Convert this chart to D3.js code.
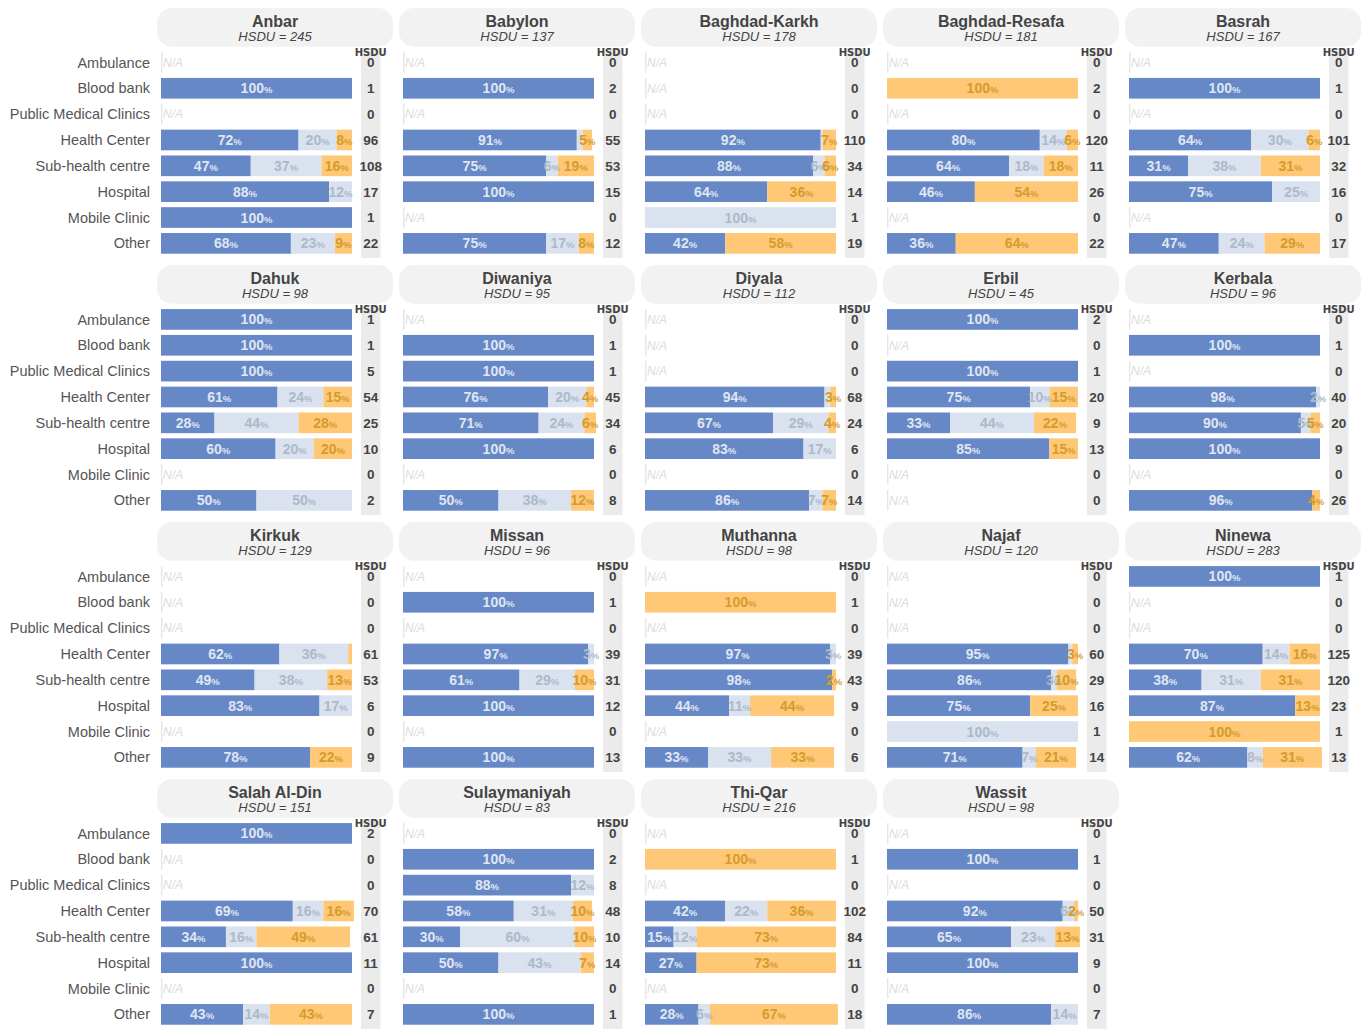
<!DOCTYPE html>
<html><head><meta charset="utf-8">
<script src="https://cdn.jsdelivr.net/npm/d3@7"></script>
<style>
body{margin:0;background:#fff;}
svg{display:block;font-family:"Liberation Sans",Arial,Helvetica,sans-serif;}
</style>
</head><body>
<svg id="chart" width="1367" height="1030"></svg>
<script>
const categories = ["Ambulance","Blood bank","Public Medical Clinics","Health Center","Sub-health centre","Hospital","Mobile Clinic","Other"];
const governorates = ["Anbar","Babylon","Baghdad-Karkh","Baghdad-Resafa","Basrah","Dahuk","Diwaniya","Diyala","Erbil","Kerbala","Kirkuk","Missan","Muthanna","Najaf","Ninewa","Salah Al-Din","Sulaymaniyah","Thi-Qar","Wassit"];
const totalHSDU = [245,137,178,181,167,98,95,112,45,96,129,96,98,120,283,151,83,216,98];

// HSDU count per category (0 = N/A)
const counts = [
  [0,1,0,96,108,17,1,22],
  [0,2,0,55,53,15,0,12],
  [0,0,0,110,34,14,1,19],
  [0,2,0,120,11,26,0,22],
  [0,1,0,101,32,16,0,17],
  [1,1,5,54,25,10,0,2],
  [0,1,1,45,34,6,0,8],
  [0,0,0,68,24,6,0,14],
  [2,0,1,20,9,13,0,0],
  [0,1,0,40,20,9,0,26],
  [0,0,0,61,53,6,0,9],
  [0,1,0,39,31,12,0,13],
  [0,1,0,39,43,9,0,6],
  [0,0,0,60,29,16,1,14],
  [1,0,0,125,120,23,1,13],
  [2,0,0,70,61,11,0,7],
  [0,2,8,48,10,14,0,1],
  [0,1,0,102,84,11,0,18],
  [0,1,0,50,31,9,0,7]
];
// share (%) – first series (blue)
const blueShare = [
  [0,100,0,72,47,88,100,68],
  [0,100,0,91,75,100,0,75],
  [0,0,0,92,88,64,0,42],
  [0,0,0,80,64,46,0,36],
  [0,100,0,64,31,75,0,47],
  [100,100,100,61,28,60,0,50],
  [0,100,100,76,71,100,0,50],
  [0,0,0,94,67,83,0,86],
  [100,0,100,75,33,85,0,0],
  [0,100,0,98,90,100,0,96],
  [0,0,0,62,49,83,0,78],
  [0,100,0,97,61,100,0,100],
  [0,0,0,97,98,44,0,33],
  [0,0,0,95,86,75,0,71],
  [100,0,0,70,38,87,0,62],
  [100,0,0,69,34,100,0,43],
  [0,100,88,58,30,50,0,100],
  [0,0,0,42,15,27,0,28],
  [0,100,0,92,65,100,0,86]
];
// share (%) – second series (light)
const lightShare = [
  [0,0,0,20,37,12,0,23],
  [0,0,0,3,6,0,0,17],
  [0,0,0,1,6,0,100,0],
  [0,0,0,14,18,0,0,0],
  [0,0,0,30,38,25,0,24],
  [0,0,0,24,44,20,0,50],
  [0,0,0,20,24,0,0,38],
  [0,0,0,3,29,17,0,7],
  [0,0,0,10,44,0,0,0],
  [0,0,0,2,5,0,0,0],
  [0,0,0,36,38,17,0,0],
  [0,0,0,3,29,0,0,0],
  [0,0,0,3,0,11,0,33],
  [0,0,0,2,3,0,100,7],
  [0,0,0,14,31,0,0,8],
  [0,0,0,16,16,0,0,14],
  [0,0,12,31,60,43,0,0],
  [0,0,0,22,12,0,0,6],
  [0,0,0,6,23,0,0,14]
];
// share (%) – third series (orange)
const orangeShare = [
  [0,0,0,8,16,0,0,9],
  [0,0,0,5,19,0,0,8],
  [0,0,0,7,6,36,0,58],
  [0,100,0,6,18,54,0,64],
  [0,0,0,6,31,0,0,29],
  [0,0,0,15,28,20,0,0],
  [0,0,0,4,6,0,0,12],
  [0,0,0,3,4,0,0,7],
  [0,0,0,15,22,15,0,0],
  [0,0,0,0,5,0,0,4],
  [0,0,0,2,13,0,0,22],
  [0,0,0,0,10,0,0,0],
  [0,100,0,0,2,44,0,33],
  [0,0,0,3,10,25,0,21],
  [0,0,0,16,31,13,100,31],
  [0,0,0,16,49,0,0,43],
  [0,0,0,10,10,7,0,0],
  [0,100,0,36,73,73,0,67],
  [0,0,0,2,13,0,0,0]
];
// segments whose value label is not printed in the reference
const unlabeled = ["Babylon|Health Center|light","Baghdad-Karkh|Health Center|light","Diyala|Health Center|light","Najaf|Health Center|light","Kirkuk|Health Center|orange"];

const keys = ["blue","light","orange"];
const fill = {blue:"#6788c6", light:"#d9e2ee", orange:"#fec877"};
const textFill = {blue:"#dfe6f2", light:"#adb9ca", orange:"#d69b2c"};

const svg = d3.select("#chart");
const colStep = 242, rowStep = 257;
const x = d3.scaleLinear().domain([0,100]).range([161,352]);
const y = d3.scaleBand().domain(categories).range([49.5,256.3]).paddingInner(0.2).paddingOuter(0.1);
const stack = d3.stack().keys(keys);

governorates.forEach((gov, g) => {
  const c = g % 5, r = Math.floor(g / 5);
  const p = svg.append("g").attr("transform", `translate(${c*colStep},${r*rowStep})`);

  // header pill
  p.append("rect").attr("x",157).attr("y",8).attr("width",236).attr("height",38.7)
    .attr("rx",15).attr("fill","#f2f2f2");
  p.append("text").attr("x",275).attr("y",26.5).attr("text-anchor","middle")
    .attr("font-size",16).attr("font-weight","bold").attr("fill","#444").text(gov);
  p.append("text").attr("x",275).attr("y",40.5).attr("text-anchor","middle")
    .attr("font-size",13).attr("font-style","italic").attr("fill","#444").text(`HSDU = ${totalHSDU[g]}`);

  // category labels (first column only)
  if (c === 0) {
    p.selectAll("text.cat").data(categories).join("text").attr("class","cat")
      .attr("x",150).attr("y",d => y(d)+y.bandwidth()/2).attr("dy","0.35em")
      .attr("text-anchor","end").attr("font-size",14.5).attr("fill","#555").text(d => d);
  }

  // HSDU count band
  p.append("rect").attr("x",361).attr("y",48).attr("width",19.5).attr("height",210).attr("fill","#ebebeb");
  p.append("text").attr("x",370.7).attr("y",55.5).attr("text-anchor","middle")
    .attr("font-family","DejaVu Sans, sans-serif").attr("font-size",10).attr("font-weight","bold")
    .attr("fill","#444").text("HSDU");

  const rows = categories.map((cat, i) => ({
    cat, n: counts[g][i], blue: blueShare[g][i], light: lightShare[g][i], orange: orangeShare[g][i]
  }));

  p.selectAll("text.cnt").data(rows).join("text").attr("class","cnt")
    .attr("x",370.7).attr("y",d => y(d.cat)+y.bandwidth()/2).attr("dy","0.36em")
    .attr("text-anchor","middle").attr("font-size",13.5).attr("font-weight","bold").attr("fill","#444")
    .text(d => d.n);

  // N/A rows
  const na = rows.filter(d => d.n === 0);
  p.selectAll("line.na").data(na).join("line").attr("class","na")
    .attr("x1",161.7).attr("x2",161.7).attr("y1",d => y(d.cat)).attr("y2",d => y(d.cat)+y.bandwidth())
    .attr("stroke","#e6e6e6").attr("stroke-width",1.5);
  p.selectAll("text.na").data(na).join("text").attr("class","na")
    .attr("x",163).attr("y",d => y(d.cat)+y.bandwidth()/2).attr("dy","0.36em")
    .attr("font-size",12).attr("font-style","italic").attr("fill","#dcdcdc").text("N/A");

  // stacked bars
  const series = stack(rows.filter(d => d.n > 0));
  series.forEach(s => {
    const key = s.key;
    const segs = s.filter(d => d[1] - d[0] > 0);
    p.selectAll(`rect.seg-${key}`).data(segs).join("rect").attr("class",`seg-${key}`)
      .attr("x",d => x(d[0])).attr("width",d => x(d[1]) - x(d[0]))
      .attr("y",d => y(d.data.cat)).attr("height",y.bandwidth()).attr("fill",fill[key]);
  });
  series.forEach(s => {
    const key = s.key;
    const segs = s.filter(d => d[1] - d[0] > 0 && !unlabeled.includes(`${gov}|${d.data.cat}|${key}`));
    const t = p.selectAll(`text.lab-${key}`).data(segs).join("text").attr("class",`lab-${key}`)
      .attr("x",d => (x(d[0]) + x(d[1]))/2).attr("y",d => y(d.data.cat)+y.bandwidth()/2).attr("dy","0.36em")
      .attr("text-anchor","middle").attr("font-weight","bold").attr("font-size",14).attr("fill",textFill[key]);
    t.append("tspan").text(d => d.data[key]);
    t.append("tspan").attr("font-size",9.5).text("%");
  });
});
</script>
</body></html>
